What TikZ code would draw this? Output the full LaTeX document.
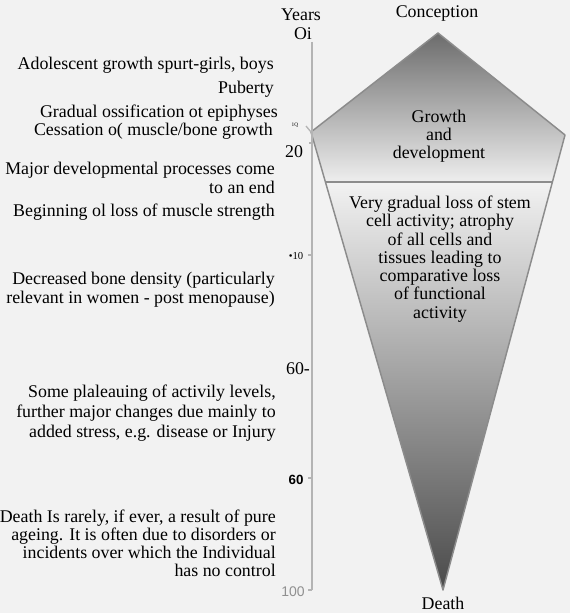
\documentclass[tikz,border=0pt]{standalone}
\usepackage{fontspec}
\IfFontExistsTF{LiberationSerif-Regular.ttf}
  {\setmainfont{LiberationSerif}[Extension=.ttf, UprightFont=*-Regular, BoldFont=*-Bold, ItalicFont=*-Italic]}
  {\setmainfont{Latin Modern Roman}}
\newfontfamily\axisfont{Liberation Sans}
\usetikzlibrary{positioning}

\definecolor{paper}{HTML}{F2F2F2}
\definecolor{edgegray}{HTML}{8C8C8C}
\definecolor{axisgray}{HTML}{B4B4B4}
\definecolor{shadetop}{HTML}{6C6C6C}
\definecolor{shadelight}{HTML}{EEEEEE}
\definecolor{shademid}{HTML}{CFCFCF}
\definecolor{shadebot}{HTML}{4A4A4A}

\begin{document}
\begin{tikzpicture}[x=0.75pt, y=-0.75pt,
    every node/.style={inner sep=0pt, font=\rmfamily\fontsize{13.4}{14}\selectfont},
    note/.style={anchor=east, align=right},
    inside/.style={align=center, font=\rmfamily\fontsize{13.4}{13.7}\selectfont},
    outline/.style={draw=edgegray, line width=1.1pt, line join=round},
    axisline/.style={draw=axisgray, line width=1.1pt},
    tickmark/.style={draw=axisgray, line width=1pt}]
            % Fondo
            \fill[paper] (0,0) rectangle (570,613);
            \useasboundingbox (0,0) rectangle (570,613);

            % Vertices
            \coordinate (apex) at (438,33);
            \coordinate (lv) at (311,132);
            \coordinate (rv) at (565,135);
            \coordinate (ml) at (325.5,182);
            \coordinate (mr) at (552.5,182);
            \coordinate (bot) at (443,590);
            \coordinate (axtop) at (312,42);
            \coordinate (axbot) at (312,590);

            % Figura
            \shade[top color=shadetop, bottom color=shadelight] (apex) -- (rv) -- (mr) -- (ml) -- (lv) -- cycle;
            \shade[top color=paper, middle color=shademid, bottom color=shadebot] (ml) -- (mr) -- (bot) -- cycle;
            \draw[outline] (apex) -- (rv) -- (bot) -- (lv) -- cycle;
            \draw[outline] (ml) -- (mr);

            % Eje
            \draw[axisline] (axtop) -- (axbot);
            \draw[axisline] (axbot) -- ++(-4,0);
            \draw[tickmark] (312,143) -- ++(-3,0);
            \draw[tickmark] (312,255) -- ++(-4,0);
            \draw[tickmark] (312,478) -- ++(-4,0);
            \draw[tickmark] (306,126) -- (lv);

            % Etiquetas del eje
            \node (years) at (301,15) {Years};
            \node (oi) at (303,34) {Oi};
            \node[font=\rmfamily\fontsize{4}{4}\selectfont] (t10) at (295,125) {1Q};
            \node (t20) at (294,152) {20};
            \node[font=\rmfamily\fontsize{8}{8}\selectfont] (t40) at (296,256) {•10};
            \node (t60a) at (298,369) {60-};
            \node[font=\axisfont\fontsize{10}{10}\selectfont\bfseries] (t60b) at (296,480) {60};
            \node[font=\axisfont\fontsize{10.5}{10.5}\selectfont, text=axisgray!80!black] (t100) at (293,592) {100};

            % Textos centrales
            \node (conception) at (437,13) {Conception};
            \node[inside] (growth) at (439,136) {Growth\\and\\development};
            \node[inside] (loss) at (440,259) {Very gradual loss of stem\\cell activity; atrophy\\of all cells and\\tissues leading to\\comparative loss\\of functional\\activity};
            \node (death) at (443,603) {Death};

            % Notas
            \node[note] (adol) at (274,65) {Adolescent growth spurt-girls, boys};
            \node[note] (puberty) at (274,89) {Puberty};
            \node[note] (ossif) at (278,113) {Gradual ossification ot epiphyses};
            \node[note] (cess) at (273,131) {Cessation o( muscle/bone growth};
            \node[note] (major) at (275,178) {Major developmental processes come\\to an end};
            \node[note] (strength) at (275,212) {Beginning ol loss of muscle strength};
            \node[note] (bone) at (275,290) {Decreased bone density (particularly\\relevant in women - post menopause)};
            \node[note, font=\rmfamily\fontsize{13.4}{15}\selectfont] (plateau) at (276,413) {Some plaleauing of activily levels,\\further major changes due mainly to\\added stress, e.g. disease or Injury};
            \node[note, font=\rmfamily\fontsize{13.4}{13.6}\selectfont] (rarely) at (276,543) {Death Is rarely, if ever, a result of pure\\ageing. It is often due to disorders or\\incidents over which the Individual\\has no control};
\end{tikzpicture}
\end{document}
